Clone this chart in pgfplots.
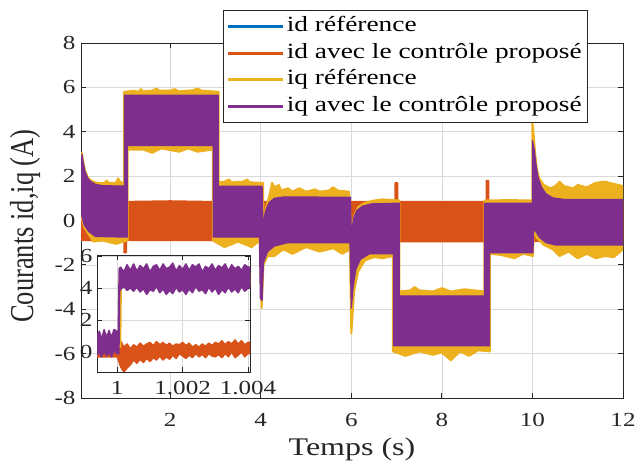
\documentclass[border=0pt]{standalone}
\usepackage{fontspec}
\setmainfont{Liberation Serif}[FakeStretch=1.26]
\newfontfamily\ylabfont{Liberation Serif}[FakeStretch=0.794]
\usepackage{pgfplots}
\pgfplotsset{compat=1.18}
\definecolor{mblue}{rgb}{0,0.447,0.741}
\definecolor{morange}{rgb}{0.85,0.325,0.098}
\definecolor{myellow}{rgb}{0.929,0.694,0.125}
\definecolor{mpurple}{rgb}{0.494,0.184,0.556}
\definecolor{axgray}{rgb}{0.15,0.15,0.15}
\definecolor{gridgray}{rgb}{0.85,0.85,0.85}
\pgfplotsset{
  mstyle/.style={
    scale only axis,
    grid=major, major grid style={gridgray, line width=0.7bp},
    axis line style={axgray, line width=0.8bp},
    tick style={axgray, line width=0.8bp}, major tick length=5bp,
    tick align=inside,
    /pgf/number format/assume math mode=true,
    tick label style={text=axgray},
  }
}
\begin{document}
\begin{tikzpicture}
\useasboundingbox (0,0) rectangle (637bp,467bp);
\begin{axis}[mstyle,
  at={(81bp,69bp)}, anchor=south west,
  width=542bp, height=355bp,
  xmin=0.03, xmax=12, ymin=-8, ymax=8,
  xtick={2,4,6,8,10,12}, ytick={-8,-6,-4,-2,0,2,4,6,8},
  tick label style={font=\fontsize{20}{22}\selectfont},
  xticklabel style={yshift=-12bp},
  yticklabel style={xshift=-2bp},
  xlabel={Temps (s)}, ylabel={Courants id,iq (A)},
  xlabel style={font=\fontsize{25.5}{28}\selectfont, text=axgray, at={(axis description cs:0.5,0)}, anchor=base, yshift=-57bp},
  ylabel style={font=\fontsize{33.5}{36}\ylabfont, text=axgray, at={(axis description cs:-0.1033,0.4845)}, anchor=center},
  legend image code/.code={\draw[#1,line width=3bp] (0bp,0bp) -- (55bp,0bp);},
  legend cell align=left,
  legend style={at={(axis description cs:0.262,1.093)}, anchor=north west,
    draw=axgray, line width=0.6bp, fill=white, text=black,
    font=\fontsize{21.8}{24}\selectfont,
    inner xsep=3bp, inner ysep=3bp, row sep=0bp,
    nodes={inner sep=2.5bp, text height=16bp, text depth=5.5bp}},
]
\addlegendimage{mblue}\addlegendentry{id référence}
\addlegendimage{morange}\addlegendentry{id avec le contrôle proposé}
\addlegendimage{myellow}\addlegendentry{iq référence}
\addlegendimage{mpurple}\addlegendentry{iq avec le contrôle proposé}
% id reference
\addplot[mblue, line width=2bp, forget plot] coordinates {(0.03,0) (12,0)};
% id measured (band)
\addplot[fill=morange, draw=morange, line width=1.5bp, line join=round, forget plot] coordinates {
(0.03,0.8) (0.98,0.8) (1.0,0.85) (2.0,0.88) (2.9,0.85) (6.97,0.85) (6.97,1.7) (7.02,1.7) (7.02,0.85)
(8.98,0.85) (8.98,1.8) (9.03,1.8) (9.03,0.85) (12,0.85)
(12,-0.9) (9.0,-0.95) (7.0,-0.95) (4.0,-0.9) (1.03,-0.9) (1.03,-1.45) (0.98,-1.45) (0.98,-0.9) (0.03,-0.9)
} -- cycle;
% iq reference (band)
\addplot[fill=myellow, draw=myellow, line width=2bp, line join=round, forget plot] coordinates {
(0.03,1.2) (0.05,3.05) (0.08,2.65) (0.12,2.25) (0.18,1.95) (0.25,1.8) (0.35,1.72) (0.45,1.68) (0.55,1.7) (0.6,1.8) (0.65,1.68) (0.8,1.7) (0.85,1.9) (0.9,1.72) (0.98,1.7)
(0.98,5.8) (1.2,5.85) (1.3,5.8) (1.35,5.92) (1.4,5.82) (1.6,5.85) (1.7,5.95) (1.75,5.85) (2.0,5.85) (2.1,5.92) (2.2,5.82) (2.5,5.87) (2.6,5.95) (2.7,5.85) (3.07,5.8)
(3.07,1.72) (3.2,1.75) (3.3,1.85) (3.35,1.72) (3.6,1.75) (3.7,1.85) (3.75,1.72) (3.96,1.7) (4.05,1.7)
(4.06,-0.2) (4.12,0.6) (4.2,1.2) (4.25,1.7) (4.3,1.5) (4.4,1.6) (4.45,1.35) (4.6,1.45) (4.7,1.3) (4.85,1.45) (5.0,1.3) (5.2,1.4) (5.3,1.3) (5.5,1.35) (5.6,1.5) (5.7,1.35) (5.95,1.3)
(6.0,-0.5) (6.06,0.2) (6.15,0.6) (6.3,0.8) (6.5,0.9) (6.7,0.95) (7.06,0.9)
(7.06,-3.2) (7.3,-3.15) (7.4,-3.0) (7.5,-3.15) (7.8,-3.2) (8.0,-3.05) (8.2,-3.2) (8.5,-3.1) (8.94,-3.2)
(8.94,0.9) (9.5,0.92) (10.0,0.9)
(10.0,4.4) (10.03,3.8) (10.06,3.0) (10.1,2.3) (10.15,1.9) (10.25,1.6) (10.4,1.45) (10.5,1.55) (10.6,1.75) (10.7,1.55) (10.9,1.45) (11.0,1.6) (11.2,1.5) (11.4,1.7) (11.6,1.75) (11.8,1.65) (12,1.55)
(12,-1.3) (11.8,-1.65) (11.6,-1.6) (11.4,-1.7) (11.2,-1.5) (11.0,-1.7) (10.8,-1.4) (10.6,-1.6) (10.45,-1.3) (10.25,-1.1) (10.1,-0.8) (10.03,-0.4)
(10.01,-1.6) (9.8,-1.5) (9.6,-1.7) (9.3,-1.55) (9.06,-1.5)
(9.06,-5.9) (8.8,-5.85) (8.6,-6.1) (8.4,-5.9) (8.2,-6.3) (8.0,-5.95) (7.8,-6.05) (7.5,-5.9) (7.2,-6.1) (6.92,-5.9)
(6.92,-1.6) (6.7,-1.7) (6.5,-1.65) (6.3,-1.8) (6.15,-2.3) (6.06,-3.2) (6.0,-5.1)
(5.97,-1.3) (5.8,-1.5) (5.6,-1.25) (5.3,-1.4) (5.0,-1.2) (4.7,-1.5) (4.5,-1.3) (4.3,-1.6) (4.15,-1.6) (4.06,-2.0) (4.02,-3.95)
(3.98,-0.9) (3.8,-1.2) (3.5,-0.95) (3.2,-1.2) (2.94,-0.9)
(2.94,3.2) (2.6,3.1) (2.4,3.25) (2.2,3.1) (1.8,3.25) (1.6,3.05) (1.4,3.2) (1.06,3.2)
(1.06,-0.9) (0.8,-1.05) (0.5,-0.9) (0.3,-0.95) (0.1,-0.3) (0.05,0.1) (0.03,0.2)
} -- cycle;
% iq measured (band)
\addplot[fill=mpurple, draw=mpurple, line width=1.2bp, line join=round, forget plot] coordinates {
(0.03,1.2) (0.05,3.0) (0.08,2.6) (0.12,2.2) (0.18,1.9) (0.25,1.75) (0.35,1.63) (0.5,1.57) (0.99,1.55)
(0.99,5.65) (3.06,5.65) (3.06,1.55) (4.03,1.55)
(4.05,-0.3) (4.1,0.4) (4.18,0.8) (4.3,1.0) (4.5,1.06) (5.98,1.05)
(6.0,-0.6) (6.05,0.1) (6.12,0.45) (6.25,0.65) (6.45,0.75) (7.06,0.78)
(7.06,-3.4) (8.94,-3.4) (8.94,0.78) (10.0,0.78)
(10.0,3.6) (10.04,3.2) (10.08,2.5) (10.13,1.9) (10.2,1.5) (10.3,1.2) (10.45,1.02) (10.7,0.95) (12,0.95)
(12,-1.1) (10.5,-1.1) (10.3,-1.0) (10.15,-0.75) (10.06,-0.45) (10.03,-0.3)
(10.01,-1.45) (9.05,-1.45) (9.05,-5.65) (6.93,-5.65) (6.93,-1.5)
(6.4,-1.5) (6.2,-1.75) (6.1,-2.2) (6.04,-3.0) (6.0,-3.95)
(5.97,-1.0) (4.6,-1.0) (4.3,-1.15) (4.15,-1.4) (4.06,-1.9) (4.03,-3.6) (3.99,-3.5)
(3.97,-0.75) (2.95,-0.75) (2.95,3.38) (1.05,3.38) (1.05,-0.75)
(0.35,-0.72) (0.2,-0.5) (0.1,-0.2) (0.05,0.2) (0.03,0.3)
} -- cycle;
\end{axis}
% inset (x in ms after t = 1 s)
\begin{axis}[mstyle,
  at={(97bp,95bp)}, anchor=south west,
  width=153bp, height=117bp,
  xmin=-0.62, xmax=4.06, ymin=-1.25, ymax=6.06,
  xtick={0,2,4}, xticklabels={1,1.002,1.004}, ytick={0,2,4,6},
  tick label style={font=\fontsize{20}{22}\selectfont},
  xticklabel style={yshift=-6bp},
  yticklabel style={xshift=-1bp},
  axis background/.style={fill=white},
]
\addplot[mblue, line width=2bp] coordinates {(-0.62,0) (4.06,0)};
\addplot[fill=morange, draw=morange, line width=1.5bp, line join=round] coordinates {
(-0.62,0.3) (0.0,0.3) (0.02,0.5) (0.1,0.7) (0.2,0.3) (0.3,0.5) (0.4,0.2) (0.5,0.45) (0.6,0.3) (0.7,0.55) (0.8,0.35) (0.9,0.5)
(1.0,0.6) (1.1,0.4) (1.2,0.65) (1.3,0.45) (1.4,0.6) (1.5,0.4) (1.6,0.55) (1.7,0.35) (1.8,0.5) (1.9,0.45)
(2.0,0.6) (2.1,0.4) (2.2,0.55) (2.3,0.3) (2.4,0.45) (2.5,0.3) (2.6,0.5) (2.7,0.35) (2.8,0.55) (2.9,0.4)
(3.0,0.6) (3.1,0.5) (3.2,0.7) (3.3,0.45) (3.4,0.65) (3.5,0.5) (3.6,0.75) (3.7,0.5) (3.8,0.7) (3.9,0.45) (4.0,0.6) (4.06,0.6)
(4.06,-0.1) (4.0,-0.1) (3.9,-0.3) (3.8,0.0) (3.7,-0.2) (3.6,-0.35) (3.5,0.0) (3.4,-0.3) (3.3,-0.1) (3.2,-0.35) (3.1,-0.15)
(3.0,-0.3) (2.9,-0.25) (2.8,-0.1) (2.7,-0.35) (2.6,-0.15) (2.5,-0.3) (2.4,-0.1) (2.3,-0.35) (2.2,-0.2) (2.1,-0.4)
(2.0,-0.25) (1.9,-0.1) (1.8,-0.4) (1.7,-0.2) (1.6,-0.45) (1.5,-0.3) (1.4,-0.5) (1.3,-0.25) (1.2,-0.5) (1.1,-0.35)
(1.0,-0.6) (0.9,-0.4) (0.8,-0.65) (0.7,-0.45) (0.6,-0.7) (0.5,-0.5) (0.4,-0.8) (0.3,-1.0) (0.2,-1.25) (0.1,-0.9) (0.05,-0.6) (0.0,-0.3) (-0.62,-0.3)
} -- cycle;
\addplot[fill=myellow, draw=myellow, line width=1.5bp, line join=round] coordinates {
(-0.62,0.9) (0.04,0.9) (0.07,5.0) (4.06,4.9) (4.06,4.2) (0.12,4.2) (0.1,0.3) (-0.62,0.3)
} -- cycle;
\addplot[fill=mpurple, draw=mpurple, line width=1.5bp, line join=round] coordinates {
(-0.62,1.0) (-0.55,1.3) (-0.48,0.8) (-0.40,1.4) (-0.33,0.9) (-0.25,1.35) (-0.18,0.9) (-0.10,1.4) (-0.02,1.3) (0.03,1.3)
(0.06,5.2) (0.1,5.3) (0.2,5.0) (0.3,5.45) (0.4,5.1) (0.5,5.5) (0.6,5.05) (0.7,5.4) (0.8,5.2) (0.9,5.5)
(1.0,5.0) (1.1,5.35) (1.2,5.45) (1.3,5.1) (1.4,5.5) (1.5,5.2) (1.6,5.3) (1.7,5.55) (1.8,5.05) (1.9,5.4)
(2.0,5.15) (2.1,5.5) (2.2,5.1) (2.3,5.45) (2.4,5.3) (2.5,5.5) (2.6,5.0) (2.7,5.35) (2.8,5.2) (2.9,5.5)
(3.0,5.1) (3.1,5.4) (3.2,5.25) (3.3,5.5) (3.4,5.05) (3.5,5.45) (3.6,5.2) (3.7,5.35) (3.8,5.1) (3.9,5.45) (4.0,5.3) (4.06,5.3)
(4.06,4.0) (4.0,4.0) (3.9,3.8) (3.8,4.1) (3.7,3.7) (3.6,3.95) (3.5,3.75) (3.4,4.05) (3.3,3.7) (3.2,3.9) (3.1,3.6)
(3.0,4.0) (2.9,3.75) (2.8,4.05) (2.7,3.65) (2.6,3.9) (2.5,3.8) (2.4,4.1) (2.3,3.7) (2.2,3.95) (2.1,3.6)
(2.0,3.9) (1.9,3.75) (1.8,4.05) (1.7,3.65) (1.6,3.85) (1.5,3.6) (1.4,3.95) (1.3,3.7) (1.2,4.1) (1.1,3.8)
(1.0,3.9) (0.9,3.6) (0.8,3.95) (0.7,3.75) (0.6,4.05) (0.5,3.8) (0.4,4.0) (0.3,3.85) (0.2,4.1) (0.1,3.9)
(0.07,3.8) (0.05,-0.1) (-0.02,-0.1) (-0.10,0.1) (-0.18,-0.3) (-0.25,0.0) (-0.33,-0.25) (-0.40,0.1) (-0.48,-0.3) (-0.55,0.0) (-0.62,-0.2)
} -- cycle;
\end{axis}
\end{tikzpicture}
\end{document}
